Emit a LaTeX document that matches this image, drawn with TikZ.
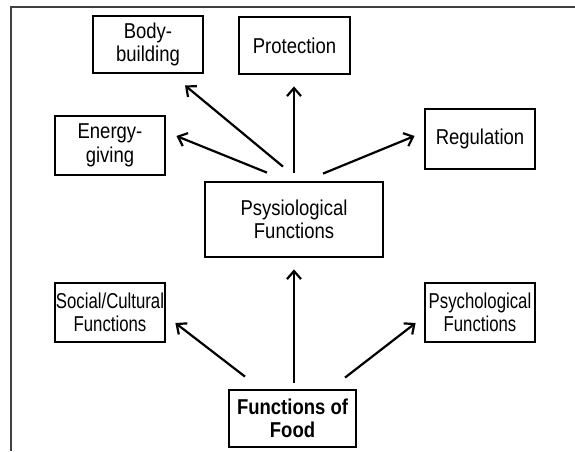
\documentclass[tikz,border=0pt]{standalone}
\usepackage{fontspec}
\setmainfont{Liberation Sans}[FakeStretch=0.86]
\newfontfamily\narrowfont{Liberation Sans}[FakeStretch=0.78]
\usetikzlibrary{arrows.meta,calc}
\begin{document}
\begin{tikzpicture}[x=1pt,y=-1pt,
  box/.style={draw=black,line width=2.8pt,align=center,inner sep=0pt,
    font=\fontsize{21.5}{23.5}\selectfont},
  narrow/.style={font=\fontsize{21.5}{23.5}\selectfont\narrowfont},
  arr/.style={line width=2.2pt,-{Straight Barb[length=8pt,width=14pt,line width=2.2pt]}},
  frame/.style={line width=1.4pt,draw=black!75}]
\useasboundingbox (0,0) rectangle (575,451);
\draw[frame] (575,7) -- (11,7) -- (11,451);
\node[box,minimum width=110pt,minimum height=57pt] (body) at (148,44.5) {Body-\\building};
\node[box,minimum width=111pt,minimum height=57pt] (prot) at (294.5,45.5) {Protection};
\node[box,minimum width=110pt,minimum height=59pt] (energy) at (110,145.5) {Energy-\\giving};
\node[box,minimum width=110pt,minimum height=60pt] (reg) at (480,139) {Regulation};
\node[box,minimum width=178pt,minimum height=75pt] (phys) at (294,219.5) {Psysiological\\Functions};
\node[box,narrow,minimum width=110pt,minimum height=59pt] (social) at (110,312.5) {Social/Cultural\\Functions};
\node[box,narrow,minimum width=110pt,minimum height=59pt] (psych) at (480,312.5) {Psychological\\Functions};
\node[box,minimum width=127pt,minimum height=57pt,font=\fontsize{21.5}{23.5}\selectfont\bfseries] (food) at (292.5,418.5) {Functions of\\Food};
\draw[arr] ($(phys.north)+(-11,-14)$) -- ($(body.south)+(37,11)$);
\draw[arr] ($(phys.north)+(-27,-8)$) -- ($(energy.east)+(10,-9.5)$);
\draw[arr] ($(phys.north)+(0,-8)$) -- ($(phys.north|-prot.south)+(0,11)$);
\draw[arr] ($(phys.north)+(29,-7)$) -- ($(reg.west)+(-9,-3)$);
\draw[arr] ($(food.north)+(1.5,-6)$) -- ($(phys.south)+(0,11)$);
\draw[arr] ($(food.north)+(-47.5,-12)$) -- ($(social.east)+(9,10.5)$);
\draw[arr] ($(food.north)+(52.5,-11)$) -- ($(psych.west)+(-8,10.5)$);
\end{tikzpicture}
\end{document}
